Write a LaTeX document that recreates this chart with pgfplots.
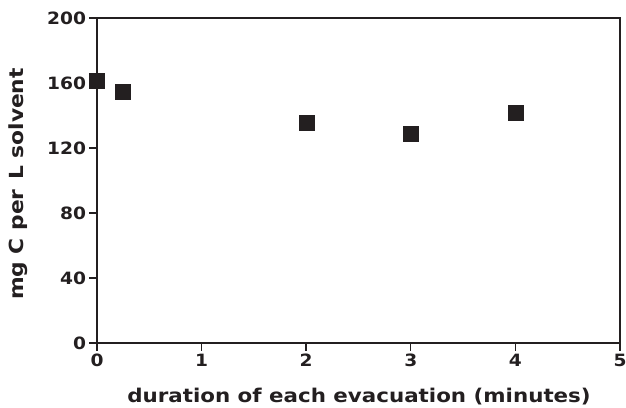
\documentclass[border=0pt]{standalone}
\usepackage{pgfplots}
\pgfplotsset{compat=1.18}
\usepackage{fontspec}
\setmainfont{DejaVu Sans}
\newfontfamily\tickfont{DejaVu Sans}[FakeStretch=1.1]
\newfontfamily\labfont{DejaVu Sans}[FakeStretch=1.13]
\newfontfamily\ylabfont{DejaVu Sans}[FakeStretch=1.12]
\definecolor{ink}{HTML}{231F20}
\begin{document}
\begin{tikzpicture}
\path[use as bounding box] (-97bp,-65bp) rectangle (529bp,343bp);
\begin{axis}[
  at={(0,0)}, anchor=origin,
  scale only axis,
  width=523bp, height=325bp,
  xmin=0, xmax=5, ymin=0, ymax=200,
  xtick={0,1,2,3,4,5},
  ytick={0,40,80,120,160,200},
  tick align=outside,
  xtick pos=bottom, ytick pos=left,
  major tick length=7.5bp,
  axis line style={line width=1.6bp, ink},
  every tick/.style={line width=1.4bp, ink},
  /pgf/number format/assume math mode=true,
  tick label style={font=\tickfont\fontsize{17}{19}\selectfont\bfseries, text=ink},
  clip=false,
]
\addplot[only marks, mark=square*, mark size=7.5bp, ink, mark options={fill=ink, draw=ink}]
  coordinates {(0,161.2) (0.25,154.6) (2,135.7) (3,128.6) (4,141.5)};
\end{axis}
\node[anchor=base, text=ink, font=\labfont\fontsize{19}{21}\selectfont\bfseries, inner sep=0pt] at (262bp,-59bp) {duration of each evacuation (minutes)};
\node[anchor=base, rotate=90, text=ink, font=\ylabfont\fontsize{19.5}{22}\selectfont\bfseries, inner sep=0pt] at (-73bp,159bp) {mg C per\hspace{0.5em}L solvent};
\end{tikzpicture}
\end{document}
